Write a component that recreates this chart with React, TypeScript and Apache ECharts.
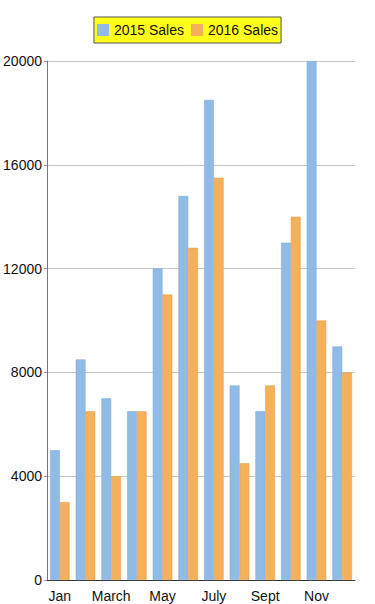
import React, { useEffect, useRef } from "react";
import * as echarts from "echarts";

const months = ["Jan", "Feb", "March", "Apr", "May", "June", "July", "Aug", "Sept", "Oct", "Nov", "Dec"];
const sales2015 = [5000, 8500, 7000, 6500, 12000, 14800, 18500, 7500, 6500, 13000, 20000, 9000];
const sales2016 = [3000, 6500, 4000, 6500, 11000, 12800, 15500, 4500, 7500, 14000, 10000, 8000];
const seriesNames = ["2015 Sales", "2016 Sales"];

export default function App() {
  const ref = useRef<HTMLDivElement>(null);
  useEffect(() => {
    if (!ref.current) return;
    const chart = echarts.init(ref.current, undefined, { renderer: "svg" });
    const font = "Liberation Sans, Arial, Helvetica, sans-serif";
    chart.setOption({
      animation: false,
      textStyle: { fontFamily: font },
      legend: {
        top: 17,
        left: "center",
        data: seriesNames,
        backgroundColor: "#ffff1a",
        borderColor: "#555",
        borderWidth: 1,
        borderRadius: 0,
        padding: [6, 3, 6, 3],
        itemWidth: 12,
        itemHeight: 12,
        itemGap: 7,
        icon: "rect",
        itemStyle: { borderWidth: 0 },
        textStyle: { fontSize: 14, color: "#111", fontFamily: font },
      },
      grid: { left: 47, right: 20, top: 61, bottom: 24, containLabel: false },
      xAxis: {
        type: "category",
        data: months,
        axisLine: { lineStyle: { color: "#333", width: 1 } },
        axisTick: {
          alignWithLabel: true,
          length: 5,
          interval: 1,
          lineStyle: { color: "#333" },
        },
        axisLabel: { interval: 1, fontSize: 14, color: "#111", margin: 9, fontFamily: font },
      },
      yAxis: {
        type: "value",
        min: 0,
        max: 20000,
        interval: 4000,
        axisLine: { show: true, lineStyle: { color: "#777", width: 1 } },
        axisTick: { show: true, length: 3, lineStyle: { color: "#999" } },
        axisLabel: {
          fontSize: 14,
          color: "#111",
          margin: 5,
          fontFamily: font,
          formatter: (v: number) => String(v),
        },
        splitLine: { lineStyle: { color: "#c8c8c8", width: 1 } },
      },
      series: [
        {
          name: seriesNames[0],
          type: "bar",
          data: sales2015,
          barGap: "0%",
          barCategoryGap: "24%",
          itemStyle: { color: "#8fbbe6", borderColor: "#7aa9db", borderWidth: 0.5 },
        },
        {
          name: seriesNames[1],
          type: "bar",
          data: sales2016,
          itemStyle: { color: "#f4b05a", borderColor: "#e49d45", borderWidth: 0.5 },
        },
      ],
    });
    return () => chart.dispose();
  }, []);
  return <div ref={ref} style={{ width: 375, height: 604, position: "absolute", left: 0, top: 0 }} />;
}
